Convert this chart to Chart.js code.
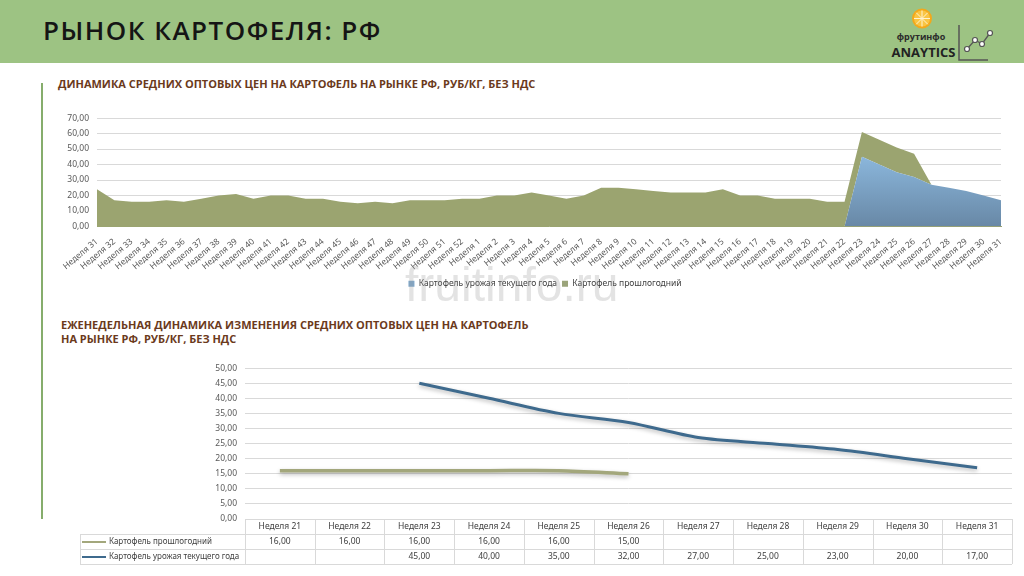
<!DOCTYPE html>
<html lang="ru">
<head>
<meta charset="utf-8">
<title>Рынок картофеля: РФ</title>
<script src="https://cdn.jsdelivr.net/npm/chart.js@4.4.1/dist/chart.umd.min.js"></script>
<style>
  html, body { margin: 0; padding: 0; background: #fff; }
  body { width: 1024px; height: 576px; position: relative; overflow: hidden; font-family: "Open Sans", sans-serif; }
  .header { position: absolute; left: 0; top: 0; width: 1024px; height: 63px; background: #9dc383; }
  .header h1 { position: absolute; left: 43px; top: 13px; margin: 0; font-size: 26px; font-weight: 600; letter-spacing: 1.5px; color: #151515; line-height: 34px; }
  .logo { position: absolute; left: 880px; top: 0; }
  .side { position: absolute; left: 41px; top: 83px; width: 2px; height: 436px; background: #86ad6c; }
  .sub { position: absolute; margin: 0; font-size: 11px; font-weight: 700; color: #6b3a1c; line-height: 14px; }
  #top-wrap { position: absolute; left: 45px; top: 105px; width: 975px; height: 193px; }
  #bottom-wrap { position: absolute; left: 60px; top: 355px; width: 960px; height: 215px; }
  .wm { position: absolute; left: 405px; top: 261px; font-family: "Liberation Sans", sans-serif; font-size: 48px; line-height: 48px; color: rgba(150,150,150,0.27); pointer-events: none; }
</style>
</head>
<body>
<div class="header">
  <h1>РЫНОК КАРТОФЕЛЯ: РФ</h1>
  <svg class="logo" width="144" height="63" viewBox="0 0 144 63">
    <circle cx="42" cy="18.5" r="10" fill="#f4a81a"/>
    <circle cx="42" cy="18.5" r="8" fill="#f9c544"/>
    <g stroke="#fff3d0" stroke-width="1">
      <line x1="42" y1="10.5" x2="42" y2="26.5"/>
      <line x1="34" y1="18.5" x2="50" y2="18.5"/>
      <line x1="36.3" y1="12.8" x2="47.7" y2="24.2"/>
      <line x1="47.7" y1="12.8" x2="36.3" y2="24.2"/>
    </g>
    <text x="41" y="40" text-anchor="middle" font-family="Open Sans" font-weight="700" font-size="9" fill="#2b2b2b">фрутинфо</text>
    <text x="43.5" y="57" text-anchor="middle" font-family="Open Sans" font-weight="700" font-size="13" fill="#222">ANAYTICS</text>
    <polyline points="79,25 79,60 108,60" fill="none" stroke="#555" stroke-width="1.5"/>
    <polyline points="87,49 95,40 102,44 110,33" fill="none" stroke="#555" stroke-width="1.3"/>
    <g fill="#fff" stroke="#555" stroke-width="1.2">
      <circle cx="87" cy="49" r="2.5"/><circle cx="95" cy="40" r="2.5"/>
      <circle cx="102" cy="44" r="2.5"/><circle cx="110" cy="33" r="2.5"/>
    </g>
  </svg>
</div>
<div class="side"></div>
<p class="sub" style="left:58px; top:77px;">ДИНАМИКА СРЕДНИХ ОПТОВЫХ ЦЕН НА КАРТОФЕЛЬ НА РЫНКЕ РФ, РУБ/КГ, БЕЗ НДС</p>
<div id="top-wrap"><canvas id="topChart"></canvas></div>
<div class="wm">fruitinfo.ru</div>
<p class="sub" style="left:61px; top:318px;">ЕЖЕНЕДЕЛЬНАЯ ДИНАМИКА ИЗМЕНЕНИЯ СРЕДНИХ ОПТОВЫХ ЦЕН НА КАРТОФЕЛЬ<br>НА РЫНКЕ РФ, РУБ/КГ, БЕЗ НДС</p>
<div id="bottom-wrap"><canvas id="bottomChart"></canvas></div>

<script>
// weekly prices, rub/kg
const topWeeks = [
  'Неделя 31', 'Неделя 32', 'Неделя 33', 'Неделя 34', 'Неделя 35', 'Неделя 36', 'Неделя 37', 'Неделя 38',
  'Неделя 39', 'Неделя 40', 'Неделя 41', 'Неделя 42', 'Неделя 43', 'Неделя 44', 'Неделя 45', 'Неделя 46',
  'Неделя 47', 'Неделя 48', 'Неделя 49', 'Неделя 50', 'Неделя 51', 'Неделя 52', 'Неделя 1', 'Неделя 2',
  'Неделя 3', 'Неделя 4', 'Неделя 5', 'Неделя 6', 'Неделя 7', 'Неделя 8', 'Неделя 9', 'Неделя 10',
  'Неделя 11', 'Неделя 12', 'Неделя 13', 'Неделя 14', 'Неделя 15', 'Неделя 16', 'Неделя 17', 'Неделя 18',
  'Неделя 19', 'Неделя 20', 'Неделя 21', 'Неделя 22', 'Неделя 23', 'Неделя 24', 'Неделя 25', 'Неделя 26',
  'Неделя 27', 'Неделя 28', 'Неделя 29', 'Неделя 30', 'Неделя 31'
];
const currentCrop = [
  0, 0, 0, 0, 0, 0, 0, 0, 0, 0, 0, 0, 0, 0, 0, 0, 0, 0, 0, 0, 0, 0,
  0, 0, 0, 0, 0, 0, 0, 0, 0, 0, 0, 0, 0, 0, 0, 0, 0, 0, 0, 0, 0, 0,
  45, 40, 35, 32, 27, 25, 23, 20, 17
];
const lastYearCrop = [
  24, 17, 16, 16, 17, 16, 18, 20, 21, 18, 20, 20, 18, 18, 16, 15, 16, 15, 17, 17, 17, 18,
  18, 20, 20, 22, 20, 18, 20, 25, 25, 24, 23, 22, 22, 22, 24, 20, 20, 18, 18, 18, 16, 16,
  16, 16, 16, 15, 0, 0, 0, 0, 0
];

const bottomWeeks = ['Неделя 21', 'Неделя 22', 'Неделя 23', 'Неделя 24', 'Неделя 25', 'Неделя 26',
  'Неделя 27', 'Неделя 28', 'Неделя 29', 'Неделя 30', 'Неделя 31'];
const bottomLastYear = [16, 16, 16, 16, 16, 15, null, null, null, null, null];
const bottomCurrent = [null, null, 45, 40, 35, 32, 27, 25, 23, 20, 17];

const fmt = v => Number(v).toFixed(2).replace('.', ',');
const tickFont = { family: 'Noto Sans', size: 8.5 };
const gridColor = '#d9d9d9';
const textColor = '#595959';

// the original legend sits centred on the plot, not on the whole canvas
const legendShift = {
  id: 'legendShift',
  afterLayout(chart) {
    chart.legend.left += 16;
    chart.legend.right += 16;
  }
};

// top chart: stacked areas
const topLegendColors = ['#7fa8cb', '#9ba47a'];
new Chart(document.getElementById('topChart'), {
  type: 'line',
  data: {
    labels: topWeeks,
    datasets: [
      {
        label: 'Картофель урожая текущего года',
        data: currentCrop,
        fill: 'origin',
        borderWidth: 0,
        pointRadius: 0,
        backgroundColor: c => {
          const a = c.chart.chartArea;
          if (!a) return '#7fa8cb';
          const g = c.chart.ctx.createLinearGradient(0, a.top + 20, 0, a.bottom);
          g.addColorStop(0, '#94c3ea');
          g.addColorStop(1, '#6888a6');
          return g;
        }
      },
      {
        label: 'Картофель прошлогодний',
        data: lastYearCrop,
        fill: '-1',
        borderWidth: 0,
        pointRadius: 0,
        backgroundColor: '#9ba470'
      }
    ]
  },
  options: {
    responsive: true,
    maintainAspectRatio: false,
    animation: false,
    layout: { padding: { left: 12, right: 19, top: 12, bottom: 0 } },
    scales: {
      x: {
        stacked: true,
        offset: false,
        grid: { display: false },
        border: { display: true, color: '#9ba470' },
        ticks: { autoSkip: false, minRotation: 40, maxRotation: 40, font: tickFont, color: textColor, padding: 2 },
        afterFit: s => { s.height = 48; }
      },
      y: {
        stacked: true,
        min: 0,
        max: 70,
        ticks: { stepSize: 10, callback: v => fmt(v), font: tickFont, color: textColor, padding: 8 },
        grid: { color: gridColor, drawTicks: false },
        border: { display: false },
        afterFit: s => { s.width = 40; }
      }
    },
    plugins: {
      legend: {
        position: 'bottom',
        labels: {
          boxWidth: 6, boxHeight: 6, padding: 5,
          font: { family: 'Noto Sans', size: 8.5 }, color: '#404040',
          generateLabels: chart => Chart.defaults.plugins.legend.labels.generateLabels(chart)
            .map((l, i) => ({ ...l, fillStyle: topLegendColors[i], strokeStyle: topLegendColors[i], lineWidth: 0 }))
        }
      },
      tooltip: { enabled: false }
    }
  },
  plugins: [legendShift]
});

// soft shadow under the lines, like the excel glow
const lineShadow = {
  id: 'lineShadow',
  beforeDatasetDraw(chart) {
    const c = chart.ctx;
    c.save();
    c.shadowColor = 'rgba(0,0,0,0.28)';
    c.shadowBlur = 4;
    c.shadowOffsetY = 2;
  },
  afterDatasetDraw(chart) { chart.ctx.restore(); }
};

// data table under the line chart
const dataTable = {
  id: 'dataTable',
  afterDraw(chart) {
    const { ctx, chartArea: a, scales: { x } } = chart;
    const rowH = 15, legendLeft = 20;
    const n = chart.data.labels.length;
    const colW = (a.right - a.left) / n;
    const top = Math.round(a.bottom);
    ctx.save();
    ctx.strokeStyle = gridColor;
    ctx.lineWidth = 1;
    ctx.beginPath();
    ctx.moveTo(a.left, top + 0.5);
    ctx.lineTo(a.right, top + 0.5);
    for (let r = 1; r <= 3; r++) {
      const yy = top + r * rowH + 0.5;
      ctx.moveTo(legendLeft, yy);
      ctx.lineTo(a.right, yy);
    }
    for (let i = 0; i <= n; i++) {
      const xx = Math.round(a.left + i * colW) + 0.5;
      ctx.moveTo(xx, top);
      ctx.lineTo(xx, top + 3 * rowH);
    }
    ctx.moveTo(legendLeft + 0.5, top + rowH);
    ctx.lineTo(legendLeft + 0.5, top + 3 * rowH);
    ctx.stroke();

    ctx.font = '8.5px "Noto Sans"';
    ctx.fillStyle = '#404040';
    ctx.textAlign = 'center';
    ctx.textBaseline = 'middle';
    chart.data.labels.forEach((l, i) => ctx.fillText(l, x.getPixelForValue(i), top + rowH / 2 + 0.5));
    chart.data.datasets.forEach((ds, r) => {
      const yy = top + rowH * (r + 1) + rowH / 2 + 0.5;
      ctx.textAlign = 'center';
      ds.data.forEach((v, i) => {
        if (v !== null) ctx.fillText(fmt(v), x.getPixelForValue(i), yy);
      });
      ctx.strokeStyle = ds.borderColor;
      ctx.lineWidth = 2;
      ctx.beginPath();
      ctx.moveTo(legendLeft + 2, yy);
      ctx.lineTo(legendLeft + 26, yy);
      ctx.stroke();
      ctx.textAlign = 'left';
      ctx.font = '8px "Noto Sans"';
      ctx.fillText(ds.label, legendLeft + 29, yy);
      ctx.font = '8.5px "Noto Sans"';
    });
    ctx.restore();
  }
};

new Chart(document.getElementById('bottomChart'), {
  type: 'line',
  data: {
    labels: bottomWeeks,
    datasets: [
      { label: 'Картофель прошлогодний', data: bottomLastYear, borderColor: '#a3a77c', borderWidth: 3.5, pointRadius: 0, tension: 0.3 },
      { label: 'Картофель урожая текущего года', data: bottomCurrent, borderColor: '#3e6a8d', borderWidth: 3, pointRadius: 0, tension: 0.3 }
    ]
  },
  options: {
    responsive: true,
    maintainAspectRatio: false,
    animation: false,
    layout: { padding: { left: 140, right: 8, top: 3, bottom: 51 } },
    scales: {
      x: {
        offset: true,
        grid: { display: false, drawTicks: false },
        border: { display: false },
        ticks: { display: false }
      },
      y: {
        min: 0,
        max: 50,
        ticks: { stepSize: 5, callback: v => fmt(v), font: tickFont, color: textColor, padding: 8 },
        grid: { color: gridColor, drawTicks: false },
        border: { display: false },
        afterFit: s => { s.width = 45; }
      }
    },
    plugins: { legend: { display: false }, tooltip: { enabled: false } }
  },
  plugins: [lineShadow, dataTable]
});
</script>
</body>
</html>
